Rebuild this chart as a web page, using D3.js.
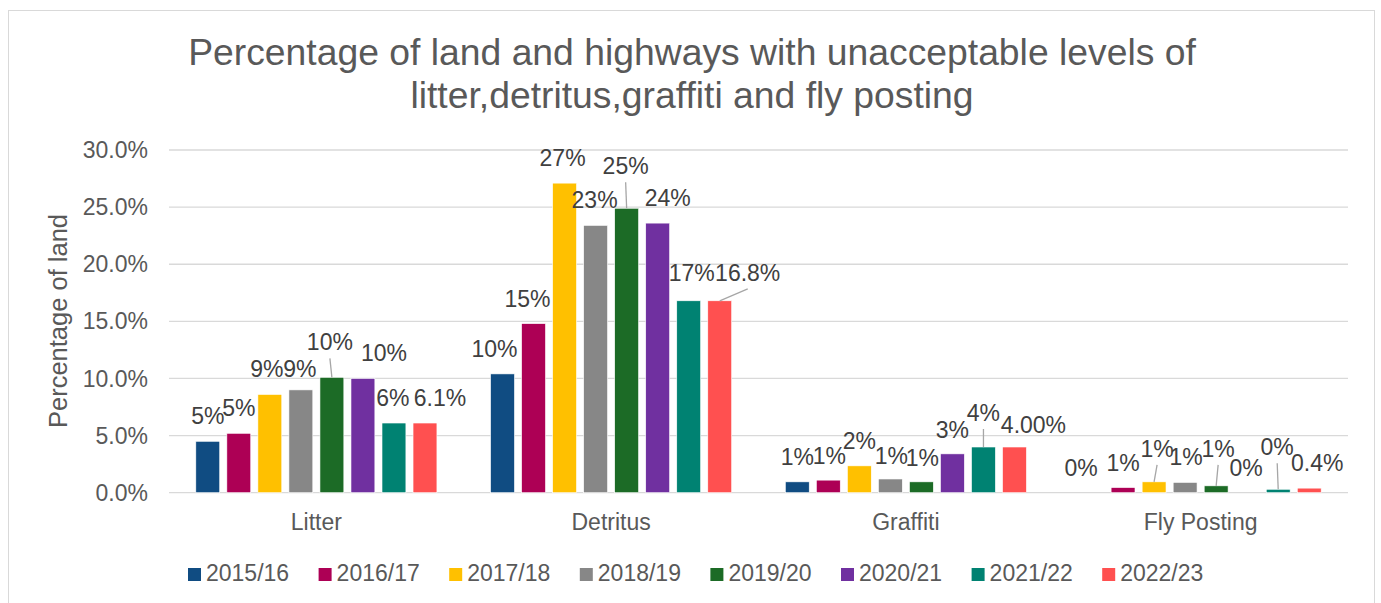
<!DOCTYPE html>
<html>
<head>
<meta charset="utf-8">
<script src="https://cdn.jsdelivr.net/npm/d3@7"></script>
<style>
  body { margin: 0; background: #fff; }
  svg { display: block; font-family: "Liberation Sans", Arial, sans-serif; }
</style>
</head>
<body>
<div id="chart"></div>
<script>
// chart data
const categories = ["Litter", "Detritus", "Graffiti", "Fly Posting"];
const years = ["2015/16", "2016/17", "2017/18", "2018/19", "2019/20", "2020/21", "2021/22", "2022/23"];
const litter   = [4.5, 5.2, 8.6, 9.0, 10.1, 10.0, 6.1, 6.1];
const detritus = [10.4, 14.8, 27.1, 23.4, 24.9, 23.6, 16.8, 16.8];
const graffiti = [0.95, 1.1, 2.35, 1.2, 0.95, 3.4, 4.0, 4.0];
const flyPosting = [0, 0.45, 0.95, 0.9, 0.6, 0, 0.3, 0.4];
const litterLabels   = ["5%", "5%", "9%", "9%", "10%", "10%", "6%", "6.1%"];
const detritusLabels = ["10%", "15%", "27%", "23%", "25%", "24%", "17%", "16.8%"];
const graffitiLabels = ["1%", "1%", "2%", "1%", "1%", "3%", "4%", "4.00%"];
const flyLabels      = ["0%", "1%", "1%", "1%", "1%", "0%", "0%", "0.4%"];
const yTicks = [0, 5, 10, 15, 20, 25, 30];
const colors = ["#104c82", "#ad0055", "#ffc000", "#878787", "#1c6b26", "#7030a0", "#008272", "#ff5050"];

// label nudges (dx, dy, leader line) where Excel moved them
const nudges = {
  "Litter":      [[0,0,0],[0,0,0],[-3,0,0],[-1,4,0],[-2,-10,1],[21,0,0],[-1,0,0],[15,0,0]],
  "Detritus":    [[-8,0,0],[-6,0,0],[-2,0,0],[-1,0,0],[-1,-17,1],[10,0,0],[3,-3,0],[28,-3,1]],
  "Graffiti":    [[0,0,0],[1,1,0],[0,0,0],[1,2,0],[1,1,0],[0,1,0],[0,-9,1],[19,3,0]],
  "Fly Posting": [[-11,0,0],[0,0,0],[3,-8,1],[1,0,0],[2,-12,1],[-1,0,0],[-1,-17,1],[8,0,0]]
};

const seriesValues = [litter, detritus, graffiti, flyPosting];
const seriesLabels = [litterLabels, detritusLabels, graffitiLabels, flyLabels];

const w = 1381, h = 603;
const plotLeft = 169, plotRight = 1348, plotTop = 150, plotBottom = 492.7;
const textCol = "#595959", labelCol = "#404040";

const svg = d3.select("#chart").append("svg")
  .attr("width", w)
  .attr("height", h);

// outer border
svg.append("rect")
  .attr("x", 8.5).attr("y", 10.5)
  .attr("width", 1366).attr("height", 620)
  .attr("fill", "#fff")
  .attr("stroke", "#d9d9d9");

// title
const title = svg.append("text")
  .attr("text-anchor", "middle")
  .attr("fill", textCol)
  .style("font-size", "37.3px");
title.append("tspan").attr("x", 692).attr("y", 65)
  .text("Percentage of land and highways with unacceptable levels of");
title.append("tspan").attr("x", 692).attr("y", 108)
  .text("litter,detritus,graffiti and fly posting");

// scales
const y = d3.scaleLinear().domain([0, 30]).range([plotBottom, plotTop]);
const x0 = d3.scaleBand().domain(categories).range([plotLeft, plotRight]).padding(0);
const groupW = x0.bandwidth() * 0.818;
const x1 = d3.scaleBand().domain(years).range([0, groupW]).paddingInner(0.23);
const groupOff = (x0.bandwidth() - groupW) / 2;

// gridlines
svg.append("g")
  .selectAll("line")
  .data(yTicks)
  .join("line")
  .attr("x1", plotLeft).attr("x2", plotRight)
  .attr("y1", d => y(d)).attr("y2", d => y(d))
  .attr("stroke", "#d9d9d9")
  .attr("stroke-width", 1.3);

// y tick labels
svg.append("g")
  .selectAll("text")
  .data(yTicks)
  .join("text")
  .attr("x", 148)
  .attr("y", d => y(d))
  .attr("dy", "0.35em")
  .attr("text-anchor", "end")
  .attr("fill", textCol)
  .style("font-size", "23px")
  .text(d => d.toFixed(1) + "%");

// y axis title
svg.append("text")
  .attr("transform", "translate(67,321) rotate(-90)")
  .attr("text-anchor", "middle")
  .attr("fill", textCol)
  .style("font-size", "25.5px")
  .text("Percentage of land");

// category labels
svg.append("g")
  .selectAll("text")
  .data(categories)
  .join("text")
  .attr("x", d => x0(d) + x0.bandwidth() / 2)
  .attr("y", 530)
  .attr("text-anchor", "middle")
  .attr("fill", textCol)
  .style("font-size", "23px")
  .text(d => d);

// flatten to rows for bars and labels
const rows = [];
categories.forEach((c, ci) => {
  years.forEach((yr, i) => {
    rows.push({
      cat: c, year: yr, i: i,
      value: seriesValues[ci][i],
      label: seriesLabels[ci][i],
      nudge: nudges[c][i]
    });
  });
});

const cx = d => x0(d.cat) + groupOff + x1(d.year) + x1.bandwidth() / 2;

// bars
svg.append("g")
  .selectAll("rect")
  .data(rows.filter(d => d.value > 0))
  .join("rect")
  .attr("x", d => x0(d.cat) + groupOff + x1(d.year))
  .attr("y", d => y(d.value))
  .attr("width", x1.bandwidth())
  .attr("height", d => plotBottom - y(d.value))
  .attr("fill", d => colors[d.i])
  .attr("stroke", "#fff")
  .attr("stroke-width", 0.6);

// leader lines
svg.append("g")
  .selectAll("line")
  .data(rows.filter(d => d.nudge[2]))
  .join("line")
  .attr("x1", d => cx(d))
  .attr("y1", d => y(d.value))
  .attr("x2", d => cx(d) + d.nudge[0])
  .attr("y2", d => y(d.value) - 17 + d.nudge[1] + 8)
  .attr("stroke", "#a6a6a6")
  .attr("stroke-width", 1.3);

// data labels
svg.append("g")
  .selectAll("text")
  .data(rows)
  .join("text")
  .attr("x", d => cx(d) + d.nudge[0])
  .attr("y", d => y(d.value) - 17 + d.nudge[1])
  .attr("text-anchor", "middle")
  .attr("fill", labelCol)
  .style("font-size", "23px")
  .text(d => d.label);

// legend
const legend = svg.append("g")
  .selectAll("g")
  .data(years)
  .join("g")
  .attr("transform", (d, i) => `translate(${188 + i * 130.6},568)`);
legend.append("rect")
  .attr("width", 13).attr("height", 13)
  .attr("fill", (d, i) => colors[i]);
legend.append("text")
  .attr("x", 18).attr("y", 13)
  .attr("fill", textCol)
  .style("font-size", "23px")
  .text(d => d);
</script>
</body>
</html>
